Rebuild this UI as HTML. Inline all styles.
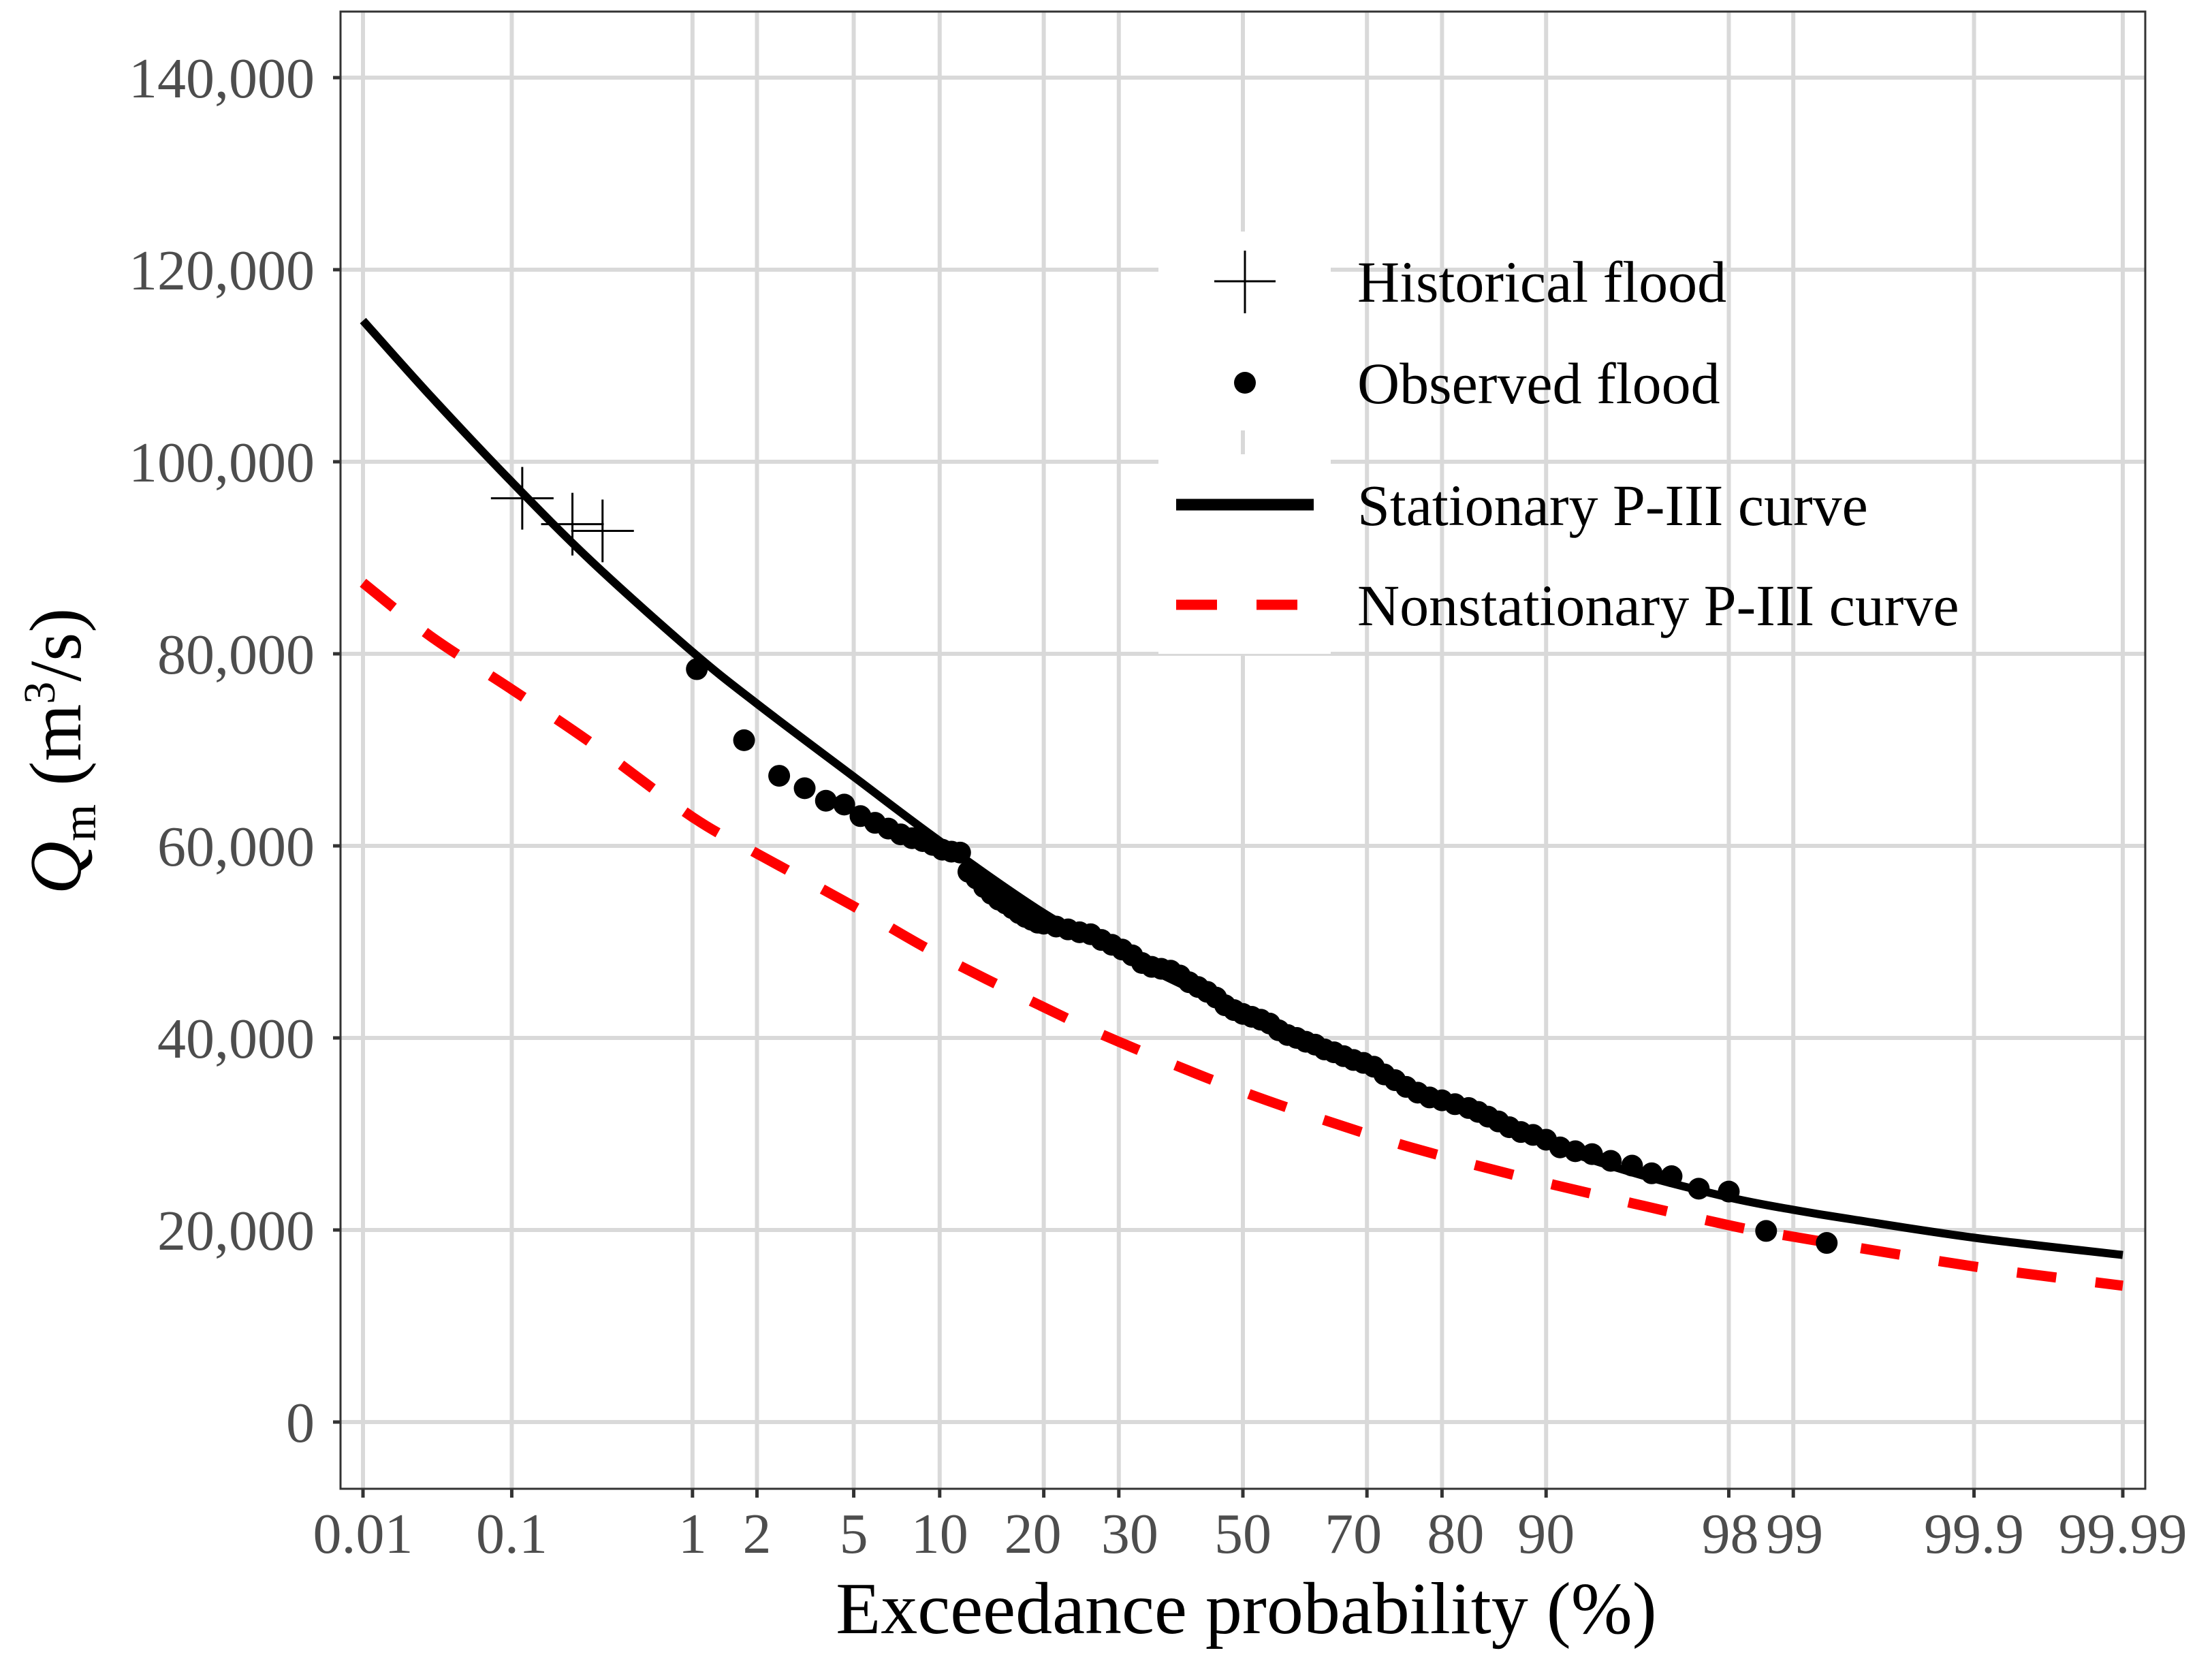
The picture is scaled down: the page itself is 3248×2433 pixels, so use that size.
<!DOCTYPE html>
<html>
<head>
<meta charset="utf-8">
<style>
html,body{margin:0;padding:0;background:#fff;}
svg{display:block;}
text{font-family:"Liberation Serif","Times New Roman",serif;}
</style>
</head>
<body>
<svg id="chart" xmlns="http://www.w3.org/2000/svg" width="3248" height="2433" viewBox="0 0 3248 2433">
  <rect x="0" y="0" width="3248" height="2433" fill="#fff"/>
  <g id="grid"></g>
  <g id="legendbg"></g>
  <g id="series"></g>
  <g id="axes"></g>
  <g id="legend"></g>
  <text x="1830" y="2398" font-size="108" text-anchor="middle" fill="#000">Exceedance probability (%)</text>
  <text transform="translate(118,1103) rotate(-90)" font-size="108" text-anchor="middle" fill="#000"><tspan font-style="italic">Q</tspan><tspan font-size="70" dy="22">m</tspan><tspan dy="-22"> (m</tspan><tspan font-size="66" dy="-38">3</tspan><tspan dy="38">/s)</tspan></text>
</svg>
<script>
// ---- data ----
const xTickProbs = [0.01, 0.1, 1, 2, 5, 10, 20, 30, 50, 70, 80, 90, 98, 99, 99.9, 99.99];
const xTickLabels = ["0.01", "0.1", "1", "2", "5", "10", "20 ", " 30", "50", "70 ", " 80", "90", "98", "99", "99.9", "99.99"];
const yTicks = [0, 20000, 40000, 60000, 80000, 100000, 120000, 140000];
const yTickLabels = ["0", "20,000", "40,000", "60,000", "80,000", "100,000", "120,000", "140,000"];

const histP = [0.116, 0.23, 0.34];
const histQ = [96200, 93500, 92800];

const obsP = [1.05,1.75,2.5,3.2,3.9,4.6,5.3,6.0,6.7,7.4,8.1,8.8,9.5,10.2,10.9,11.6,12.3,13.0,13.7,14.4,15.1,15.8,16.5,17.2,17.9,18.6,19.3,20.0,21.5,23.0,24.5,26.0,27.5,29.0,30.5,32.0,33.5,35.0,36.5,38.0,39.5,41.0,42.5,44.0,45.5,47.0,48.5,50.0,51.5,53.0,54.5,56.0,57.5,59.0,60.5,62.0,63.5,65.0,66.5,68.0,69.5,71.0,72.5,74.0,75.5,77.0,78.5,80.0,81.5,83.0,84.0,85.0,86.0,87.0,88.0,89.0,90.0,91.0,92.0,93.0,94.0,95.0,95.8,96.5,97.3,98.0,98.65,99.32];
const obsQ = [78400,71000,67300,66000,64700,64300,63100,62400,61800,61200,60800,60500,60100,59600,59400,59300,57300,56600,55700,55000,54400,54000,53500,53000,52600,52300,52000,51900,51600,51300,51000,50800,50200,49700,49200,48600,47800,47400,47200,47000,46500,45800,45300,44800,44200,43400,42900,42500,42200,41900,41500,40800,40300,40000,39600,39300,38800,38500,38100,37700,37400,37000,36200,35600,34900,34300,33800,33500,33100,32700,32300,31800,31300,30700,30200,29900,29400,28600,28200,27900,27200,26700,25900,25600,24300,24000,19900,18650];

const statP = [0.01, 0.03, 0.1, 0.3, 1, 2, 5, 10, 20, 30, 50, 70, 80, 90, 95, 98, 99, 99.5, 99.9, 99.99];
const statQ = [114700, 106800, 97900, 89500, 80200, 74800, 67200, 60500, 53000, 48800, 42600, 37000, 33500, 29000, 26000, 23400, 22100, 21100, 19200, 17400];

const nonstatP = [0.01, 0.03, 0.1, 0.3, 1, 2, 5, 10, 20, 30, 50, 70, 80, 90, 98, 99, 99.9, 99.99];
const nonstatQ = [87400, 81800, 76300, 70600, 63000, 59200, 53700, 48600, 43200, 39600, 34400, 30000, 27700, 24900, 20500, 19300, 16200, 14200];

// ---- scales ----
const PL = 500, PR = 3150, PT = 17, PB = 2186;
function qnorm(p){
  const a=[-39.69683028665376,220.9460984245205,-275.9285104469687,138.3577518672690,-30.66479806614716,2.506628277459239];
  const b=[-54.47609879822406,161.5858368580409,-155.6989798598866,66.80131188771972,-13.28068155288572];
  const c=[-0.007784894002430293,-0.3223964580411365,-2.400758277161838,-2.549732539343734,4.374664141464968,2.938163982698783];
  const d=[0.007784695709041462,0.3224671290700398,2.445134137142996,3.754408661907416];
  const pl=0.02425;
  let q,r;
  if(p<pl){q=Math.sqrt(-2*Math.log(p));return (((((c[0]*q+c[1])*q+c[2])*q+c[3])*q+c[4])*q+c[5])/((((d[0]*q+d[1])*q+d[2])*q+d[3])*q+1);}
  if(p>1-pl){q=Math.sqrt(-2*Math.log(1-p));return -(((((c[0]*q+c[1])*q+c[2])*q+c[3])*q+c[4])*q+c[5])/((((d[0]*q+d[1])*q+d[2])*q+d[3])*q+1);}
  q=p-0.5;r=q*q;
  return (((((a[0]*r+a[1])*r+a[2])*r+a[3])*r+a[4])*r+a[5])*q/(((((b[0]*r+b[1])*r+b[2])*r+b[3])*r+b[4])*r+1);
}
const zMax = qnorm(0.9999);
const X0 = 533, X1 = 3117;
function xScale(pct){ const z = qnorm(pct/100); return (X0+X1)/2 + z*(X1-X0)/(2*zMax); }
const Y0 = 2088, YPX = 282/20000;
function yScale(v){ return Y0 - v*YPX; }

const NS = "http://www.w3.org/2000/svg";
function mk(tag, attrs, parent){
  const el = document.createElementNS(NS, tag);
  for (const k in attrs) el.setAttribute(k, attrs[k]);
  parent.appendChild(el);
  return el;
}

// ---- grid ----
const grid = document.getElementById('grid');
yTicks.forEach(v=>{
  const l = mk('line',{x1:PL,x2:PR,y1:yScale(v),y2:yScale(v),stroke:'#d9d9d9','stroke-width':6},grid);
  
  
});
xTickProbs.forEach(p=>{
  const l = mk('line',{x1:xScale(p),x2:xScale(p),y1:PT,y2:PB,stroke:'#d9d9d9','stroke-width':6},grid);
  
  
});

// ---- legend key backgrounds ----
const lbg = document.getElementById('legendbg');
const kb1 = mk('rect',{x:1701,y:340,width:253,height:292,fill:'#fff'},lbg);


const kb2 = mk('rect',{x:1701,y:667,width:253,height:293,fill:'#fff'},lbg);



// ---- series ----
const series = document.getElementById('series');
function smoothPath(P,Q){
  const pts = P.map((p,i)=>[xScale(p), yScale(Q[i])]);
  let d = 'M'+pts[0][0].toFixed(1)+' '+pts[0][1].toFixed(1);
  for (let i=0;i<pts.length-1;i++){
    const p0 = pts[i-1]||pts[i], p1=pts[i], p2=pts[i+1], p3=pts[i+2]||pts[i+1];
    const c1 = [p1[0]+(p2[0]-p0[0])/6, p1[1]+(p2[1]-p0[1])/6];
    const c2 = [p2[0]-(p3[0]-p1[0])/6, p2[1]-(p3[1]-p1[1])/6];
    d += ' C'+c1[0].toFixed(1)+' '+c1[1].toFixed(1)+' '+c2[0].toFixed(1)+' '+c2[1].toFixed(1)+' '+p2[0].toFixed(1)+' '+p2[1].toFixed(1);
  }
  return d;
}
const ns = mk('path',{d:smoothPath(nonstatP,nonstatQ),fill:'none',stroke:'#ff0000','stroke-width':15,'stroke-dasharray':'58 58'},series);


const st = mk('path',{d:smoothPath(statP,statQ),fill:'none',stroke:'#000','stroke-width':12,'stroke-linejoin':'round'},series);



obsP.forEach((p,i)=>{
  const c = mk('circle',{cx:xScale(p),cy:yScale(obsQ[i]),r:16,fill:'#000'},series);
  
  
});
histP.forEach((p,i)=>{
  const cx = xScale(p), cy = yScale(histQ[i]);
  const g = mk('g',{stroke:'#000','stroke-width':3},series);
  
  
  mk('line',{x1:cx-46,x2:cx+46,y1:cy,y2:cy},g);
  mk('line',{x1:cx,x2:cx,y1:cy-46,y2:cy+46},g);
});

// ---- axes ----
const axes = document.getElementById('axes');
const border = mk('rect',{x:PL,y:PT,width:PR-PL,height:PB-PT,fill:'none',stroke:'#333','stroke-width':3},axes);


yTicks.forEach((v,i)=>{
  const y = yScale(v);
  const t = mk('line',{x1:PL-11,x2:PL,y1:y,y2:y,stroke:'#333','stroke-width':5},axes);
  
  
  const tx = mk('text',{x:462,y:y+29,'font-size':84,'text-anchor':'end',fill:'#4d4d4d'},axes);
  tx.textContent = yTickLabels[i];
  
  
});
xTickProbs.forEach((p,i)=>{
  const x = xScale(p);
  const t = mk('line',{x1:x,x2:x,y1:PB,y2:PB+13,stroke:'#333','stroke-width':5},axes);
  
  
  let anchor='middle', xx=x;
  if (xTickLabels[i]==="20 ") {anchor='end'; xx=x+26;}
  if (xTickLabels[i]===" 30") {anchor='start'; xx=x-26;}
  if (xTickLabels[i]==="70 ") {anchor='end'; xx=x+22;}
  if (xTickLabels[i]===" 80") {anchor='start'; xx=x-22;}
  if (xTickLabels[i]==="98") {xx=x+2;}
  if (xTickLabels[i]==="99") {xx=x+2;}
  const tx = mk('text',{x:xx,y:2280,'font-size':84,'text-anchor':anchor,fill:'#4d4d4d'},axes);
  tx.textContent = xTickLabels[i].trim();
  
  
});

// ---- legend ----
const leg = document.getElementById('legend');
const e1 = mk('g',{},leg);


mk('line',{x1:1783,x2:1873,y1:413,y2:413,stroke:'#000','stroke-width':3},e1);
mk('line',{x1:1828,x2:1828,y1:368,y2:460,stroke:'#000','stroke-width':3},e1);
const t1 = mk('text',{x:1993,y:443,'font-size':86,fill:'#000'},e1);
t1.textContent='Historical flood';

const e2 = mk('g',{},leg);


mk('circle',{cx:1828,cy:562,r:16,fill:'#000'},e2);
const t2 = mk('text',{x:1993,y:592,'font-size':86,fill:'#000'},e2);
t2.textContent='Observed flood';

const e3 = mk('g',{},leg);


mk('line',{x1:1727,x2:1929,y1:741,y2:741,stroke:'#000','stroke-width':17},e3);
const t3 = mk('text',{x:1993,y:771,'font-size':86,fill:'#000'},e3);
t3.textContent='Stationary P-III curve';

const e4 = mk('g',{},leg);


mk('line',{x1:1727,x2:1787,y1:888,y2:888,stroke:'#ff0000','stroke-width':15},e4);
mk('line',{x1:1845,x2:1905,y1:888,y2:888,stroke:'#ff0000','stroke-width':15},e4);
const t4 = mk('text',{x:1993,y:918,'font-size':86,fill:'#000'},e4);
t4.textContent='Nonstationary P-III curve';
</script>
</body>
</html>
